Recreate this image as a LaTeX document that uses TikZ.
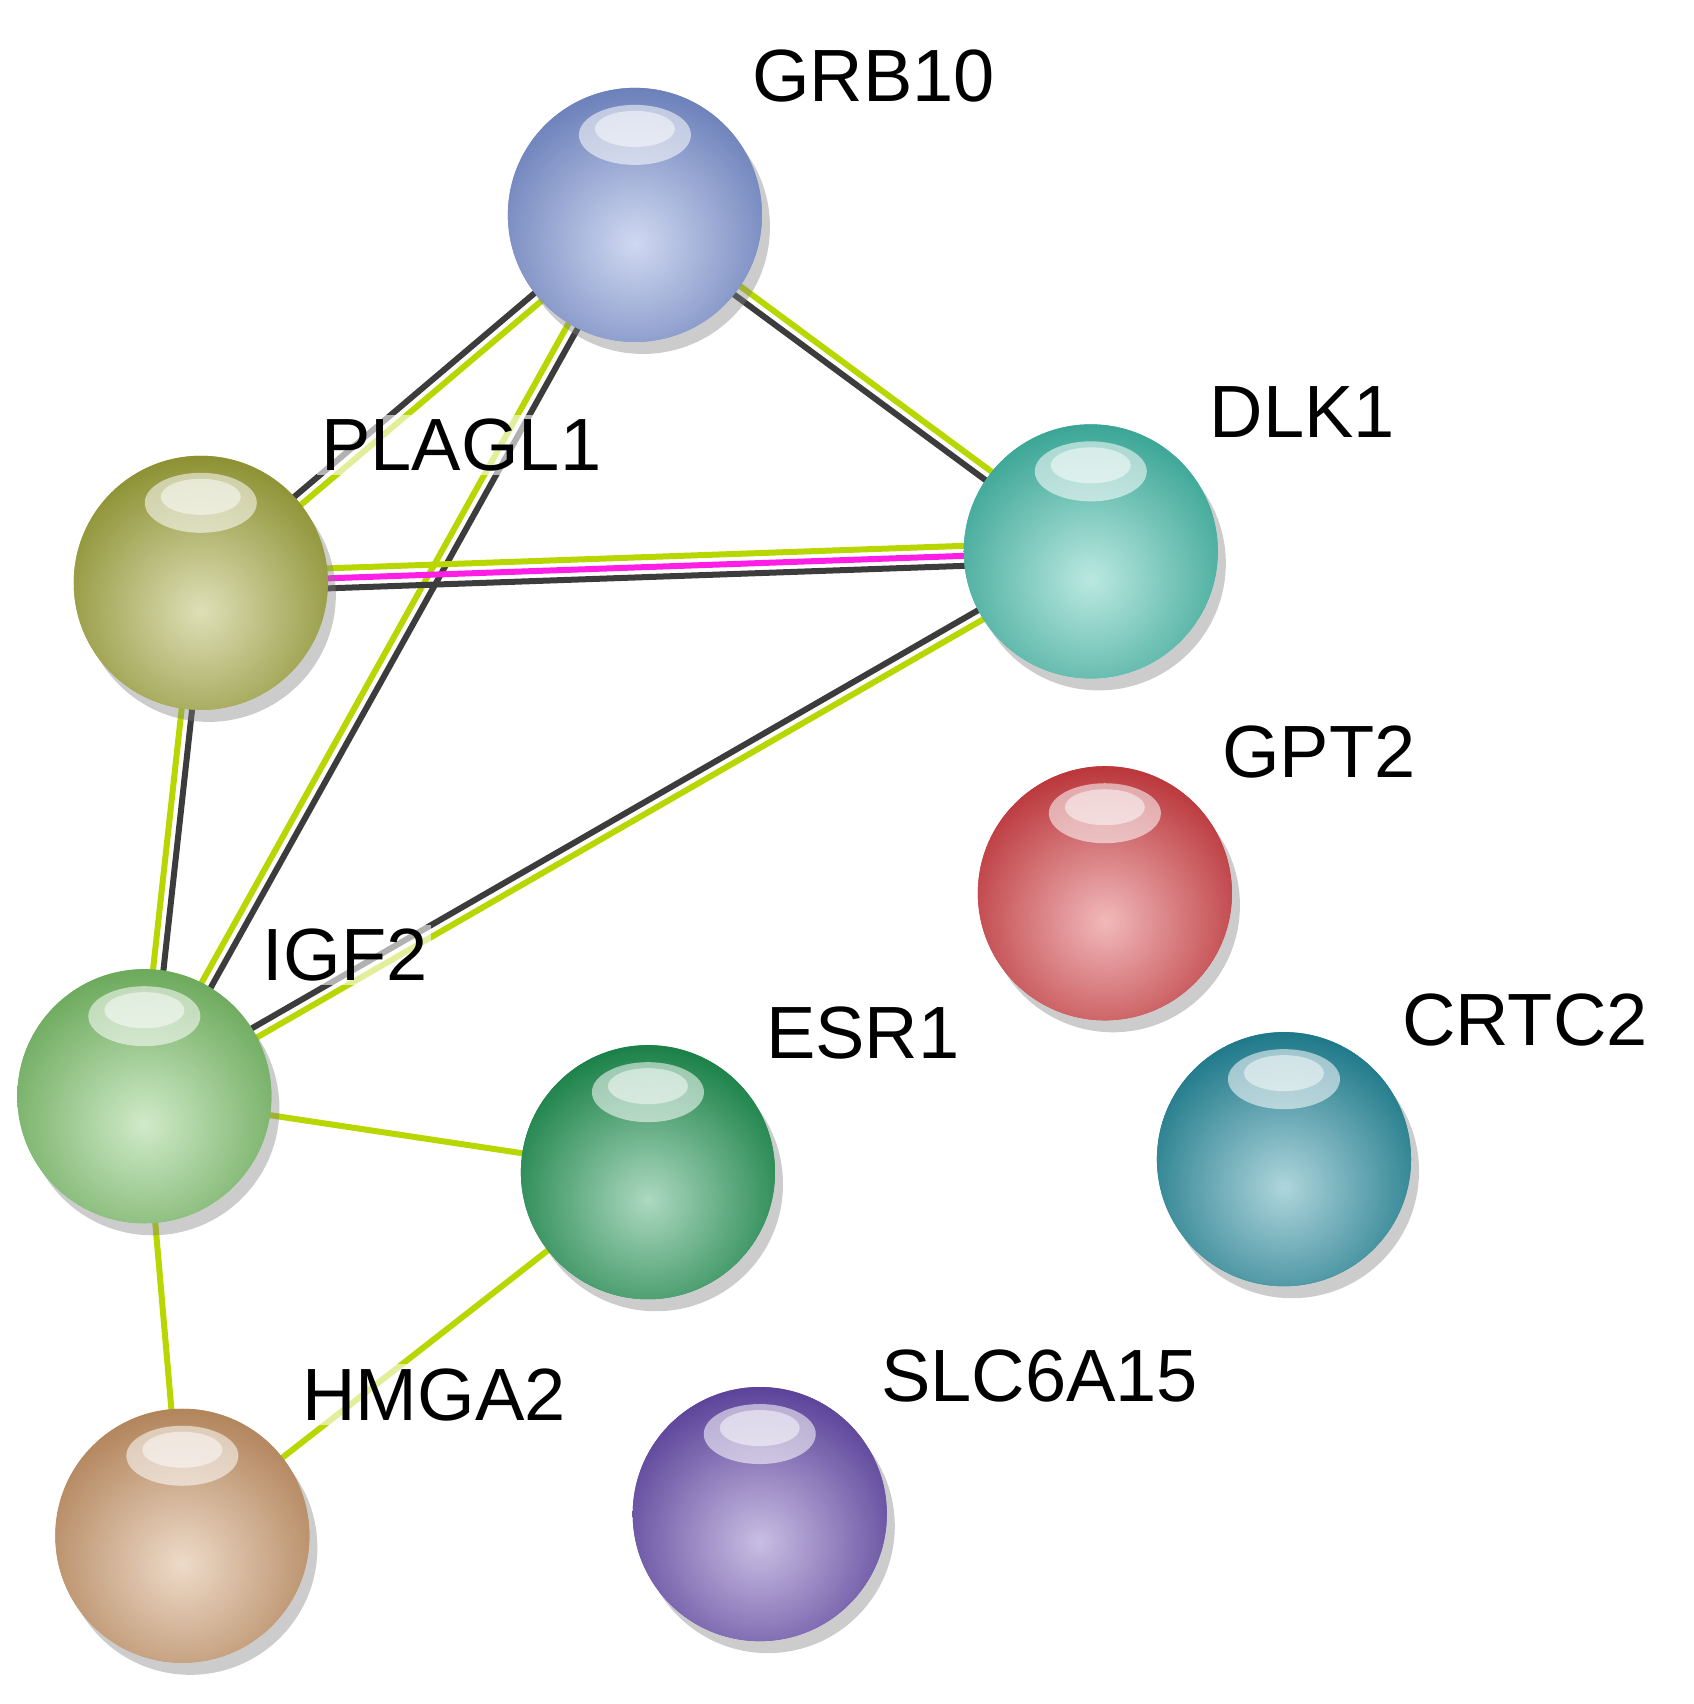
\documentclass[tikz,border=0pt]{standalone}
\usepackage{fontspec}
\setmainfont{Liberation Sans}
\usetikzlibrary{calc,shadows}
\definecolor{yg}{RGB}{184,214,0}
\definecolor{dk}{RGB}{60,60,60}
\definecolor{mg}{RGB}{255,30,230}
\definecolor{cgrb}{RGB}{120,145,215}
\definecolor{cdlk}{RGB}{60,190,170}
\definecolor{cpla}{RGB}{160,165,50}
\definecolor{cgpt}{RGB}{215,55,60}
\definecolor{ccrt}{RGB}{25,135,155}
\definecolor{cigf}{RGB}{120,195,100}
\definecolor{cesr}{RGB}{20,145,75}
\definecolor{chmg}{RGB}{205,150,100}
\definecolor{cslc}{RGB}{100,70,175}
\newcommand{\pedge}[4]{\draw[#4,line width=3pt] ($(#1)!#3!90:(#2)$) -- ($(#2)!#3!-90:(#1)$);}
\begin{document}
\begin{tikzpicture}[x=0.5425pt,y=-0.5425pt,
  ball/.style={circle,minimum size=127pt,inner sep=0pt,fill=#1,
    drop shadow={shadow xshift=4pt,shadow yshift=-6pt,opacity=0.4},
    path picture={
      \shade[inner color=#1!35!white,outer color=#1!85!black]
        ($(path picture bounding box.center)+(0,-14pt)$) circle (82pt);
      \fill[white,opacity=0.55] ($(path picture bounding box.center)+(0,40pt)$) ellipse (28pt and 15pt);
      \fill[white,opacity=0.5] ($(path picture bounding box.center)+(0,43pt)$) ellipse (20pt and 9pt);
    }},
  lab/.style={font=\fontsize{37}{40}\selectfont,inner sep=2pt,fill=white,fill opacity=0.6,text opacity=1}]
\useasboundingbox (0,0) rectangle (1560,1570);
\coordinate (grb) at (585,198);
\coordinate (dlk) at (1005,508);
\coordinate (pla) at (185,537);
\coordinate (gpt) at (1018,823);
\coordinate (crt) at (1183,1068);
\coordinate (igf) at (133,1010);
\coordinate (esr) at (597,1080);
\coordinate (hmg) at (168,1415);
\coordinate (slc) at (700,1395);
% edges
\pedge{grb}{pla}{-2.6pt}{dk}\pedge{grb}{pla}{2.6pt}{yg}
\pedge{grb}{dlk}{-2.6pt}{dk}\pedge{grb}{dlk}{2.6pt}{yg}
\pedge{grb}{igf}{2.6pt}{dk}\pedge{grb}{igf}{-2.6pt}{yg}
\pedge{pla}{dlk}{5pt}{yg}\pedge{pla}{dlk}{0pt}{mg}\pedge{pla}{dlk}{-5pt}{dk}
\pedge{pla}{igf}{2.6pt}{dk}\pedge{pla}{igf}{-2.6pt}{yg}
\pedge{dlk}{igf}{2.6pt}{yg}\pedge{dlk}{igf}{-2.6pt}{dk}
\draw[yg,line width=3pt] (igf) -- (esr);
\draw[yg,line width=3pt] (igf) -- (hmg);
\draw[yg,line width=3pt] (esr) -- (hmg);
% labels
\node[lab] (lgrb) at (805,70) {GRB10};
\node[lab] (ldlk) at (1200,380) {DLK1};
\node[lab] (lpla) at (425,410) {PLAGL1};
\node[lab] (lgpt) at (1215,693) {GPT2};
\node[lab] (lcrt) at (1405,940) {CRTC2};
\node[lab] (ligf) at (318,880) {IGF2};
\node[lab] (lesr) at (795,952) {ESR1};
\node[lab] (lhmg) at (400,1285) {HMGA2};
\node[lab] (lslc) at (958,1268) {SLC6A15};
% balls
\node[ball=cgrb] (ngrb) at (grb) {};
\node[ball=cdlk] (ndlk) at (dlk) {};
\node[ball=cpla] (npla) at (pla) {};
\node[ball=cgpt] (ngpt) at (gpt) {};
\node[ball=ccrt] (ncrt) at (crt) {};
\node[ball=cigf] (nigf) at (igf) {};
\node[ball=cesr] (nesr) at (esr) {};
\node[ball=chmg] (nhmg) at (hmg) {};
\node[ball=cslc] (nslc) at (slc) {};
\end{tikzpicture}
\end{document}
